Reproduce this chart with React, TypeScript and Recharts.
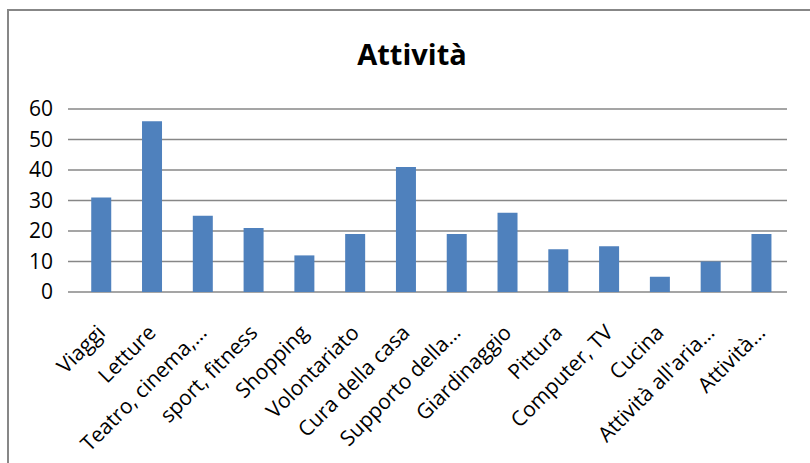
import { BarChart, Bar, XAxis, YAxis, CartesianGrid } from 'recharts';

const categories = [
  'Viaggi',
  'Letture',
  'Teatro, cinema,…',
  'sport, fitness',
  'Shopping',
  'Volontariato',
  'Cura della casa',
  'Supporto della…',
  'Giardinaggio',
  'Pittura',
  'Computer, TV',
  'Cucina',
  "Attività all'aria…",
  'Attività…',
];
const values = [31, 56, 25, 21, 12, 19, 41, 19, 26, 14, 15, 5, 10, 19];
const yTicks = [0, 10, 20, 30, 40, 50, 60];

const rows = categories.map((name, i) => ({ name, value: values[i], pos: i + 0.5 }));
// boundaries between categories, for the Excel-style tick marks
const edges = categories.map((_, i) => i).concat(categories.length);

const FONT = '"Open Sans", "Noto Sans", sans-serif';
const GREY = '#878787';

function CategoryTick({ x, y, payload }: any) {
  return (
    <g transform={`translate(${x + 5},${y + 42})`}>
      <text transform="rotate(-45)" textAnchor="end" fontSize={21} fill="#000" fontFamily={FONT}>
        {payload.value}
      </text>
    </g>
  );
}

export default function App() {
  return (
    <div style={{ position: 'fixed', left: 0, top: 0, width: 810, height: 463, background: '#fff', overflow: 'hidden' }}>
      {/* cornice del grafico, tagliata a destra e in basso */}
      <div style={{ position: 'absolute', left: 7, top: 9, width: 820, height: 470, borderTop: `2px solid ${GREY}`, borderLeft: `2px solid ${GREY}` }} />
      <div style={{ position: 'absolute', left: 0, top: 34, width: 824, textAlign: 'center', fontFamily: FONT, fontWeight: 700, fontSize: 29, color: '#000' }}>
        Attività
      </div>
      <div style={{ position: 'absolute', left: 0, top: 0 }}>
        <BarChart width={810} height={463} data={rows} margin={{ top: 109, right: 23, bottom: 0, left: 0 }} barCategoryGap="30%">
          <CartesianGrid xAxisId="cat" vertical={false} stroke={GREY} strokeWidth={1.5} />
          <XAxis
            xAxisId="edges"
            dataKey="pos"
            type="number"
            domain={[0, categories.length]}
            allowDataOverflow
            ticks={edges}
            height={0}
            tick={() => <g />}
            tickSize={7}
            stroke={GREY}
            strokeWidth={1.5}
          />
          <XAxis
            xAxisId="cat"
            dataKey="name"
            height={171}
            interval={0}
            axisLine={false}
            tickLine={false}
            tickSize={0}
            tickMargin={0}
            tick={<CategoryTick />}
          />
          <YAxis
            width={76}
            domain={[0, 60]}
            ticks={yTicks}
            axisLine={false}
            tickSize={8}
            tickMargin={15}
            tickLine={{ stroke: GREY, strokeWidth: 1.5 }}
            tick={{ fill: '#000', fontSize: 21, fontFamily: FONT }}
          />
          <Bar xAxisId="cat" dataKey="value" fill="#4F81BD" isAnimationActive={false} />
        </BarChart>
      </div>
    </div>
  );
}
